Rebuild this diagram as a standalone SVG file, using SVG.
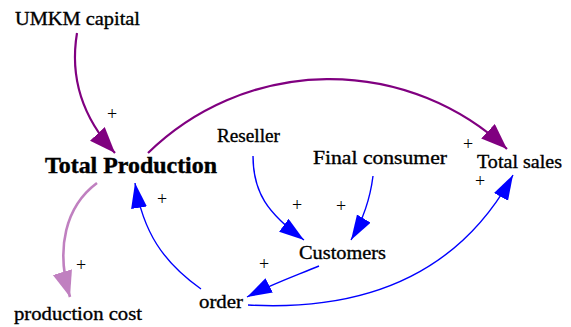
<svg xmlns="http://www.w3.org/2000/svg" width="571" height="327" viewBox="0 0 571 327">
<style>
  text { font-family: 'Liberation Serif', 'Times New Roman', serif; fill: #000; }
  .lbl { font-size: 19px; stroke: #000; stroke-width: 0.35; }
  .big { font-size: 23px; font-weight: bold; stroke: #000; stroke-width: 0.4; }
  .pl { font-size: 18px; text-anchor: middle; }
  .c { fill: none; }
  .pur { stroke: #800080; stroke-width: 2.2; }
  .lpur { stroke: #c080c0; stroke-width: 2.6; }
  .blu { stroke: #0000ff; stroke-width: 1.4; }
</style>
<defs>
  <marker id="ahP" markerUnits="userSpaceOnUse" markerWidth="28" markerHeight="22" refX="26" refY="10" orient="auto">
    <path d="M0,0 L26,10 L0,20 z" fill="#800080"/>
  </marker>
  <marker id="ahL" markerUnits="userSpaceOnUse" markerWidth="28" markerHeight="22" refX="26" refY="10" orient="auto">
    <path d="M0,0 L26,10 L0,20 z" fill="#c080c0"/>
  </marker>
  <marker id="ahB" markerUnits="userSpaceOnUse" markerWidth="28" markerHeight="20" refX="25" refY="8" orient="auto">
    <path d="M0,0 L25,8 L0,16 z" fill="#0000ff"/>
  </marker>
</defs>
<rect width="571" height="327" fill="#fff"/>
<g id="connectors">
  <path class="c pur" d="M77,33 C70,75 80,115 115,153" marker-end="url(#ahP)"/>
  <path class="c pur" d="M148,153 A260,260 0 0 1 507,149" marker-end="url(#ahP)"/>
  <path class="c lpur" d="M97,183 C66,206 55,248 70,297" marker-end="url(#ahL)"/>
  <path class="c blu" d="M201,289 C163,262 143,232 135,183" marker-end="url(#ahB)"/>
  <path class="c blu" d="M253,156 C253,192 267,213 304,240" marker-end="url(#ahB)"/>
  <path class="c blu" d="M373,176 C370,200 363,220 351,240" marker-end="url(#ahB)"/>
  <path class="c blu" d="M319,266 C295,276 270,285 247,297" marker-end="url(#ahB)"/>
  <path class="c blu" d="M248,305 C340,310 450,290 513,175" marker-end="url(#ahB)"/>
  <text class="pl" x="112" y="120">+</text>
  <text class="pl" x="468" y="150">+</text>
  <text class="pl" x="81" y="271">+</text>
  <text class="pl" x="162" y="205">+</text>
  <text class="pl" x="297" y="211">+</text>
  <text class="pl" x="341" y="212">+</text>
  <text class="pl" x="264" y="270">+</text>
  <text class="pl" x="480" y="187">+</text>
</g>
<g id="umkm-capital"><text class="lbl" x="15" y="25" textLength="125" lengthAdjust="spacingAndGlyphs">UMKM capital</text></g>
<g id="total-production"><text class="big" x="45" y="173" textLength="172" lengthAdjust="spacingAndGlyphs">Total Production</text></g>
<g id="reseller"><text class="lbl" x="217" y="142" textLength="63" lengthAdjust="spacingAndGlyphs">Reseller</text></g>
<g id="final-consumer"><text class="lbl" x="313" y="164" textLength="134" lengthAdjust="spacingAndGlyphs">Final consumer</text></g>
<g id="total-sales"><text class="lbl" x="477" y="168" textLength="85" lengthAdjust="spacingAndGlyphs">Total sales</text></g>
<g id="customers"><text class="lbl" x="299" y="259" textLength="87" lengthAdjust="spacingAndGlyphs">Customers</text></g>
<g id="order"><text class="lbl" x="199" y="308" textLength="44" lengthAdjust="spacingAndGlyphs">order</text></g>
<g id="production-cost"><text class="lbl" x="14" y="320" textLength="128" lengthAdjust="spacingAndGlyphs">production cost</text></g>
</svg>
